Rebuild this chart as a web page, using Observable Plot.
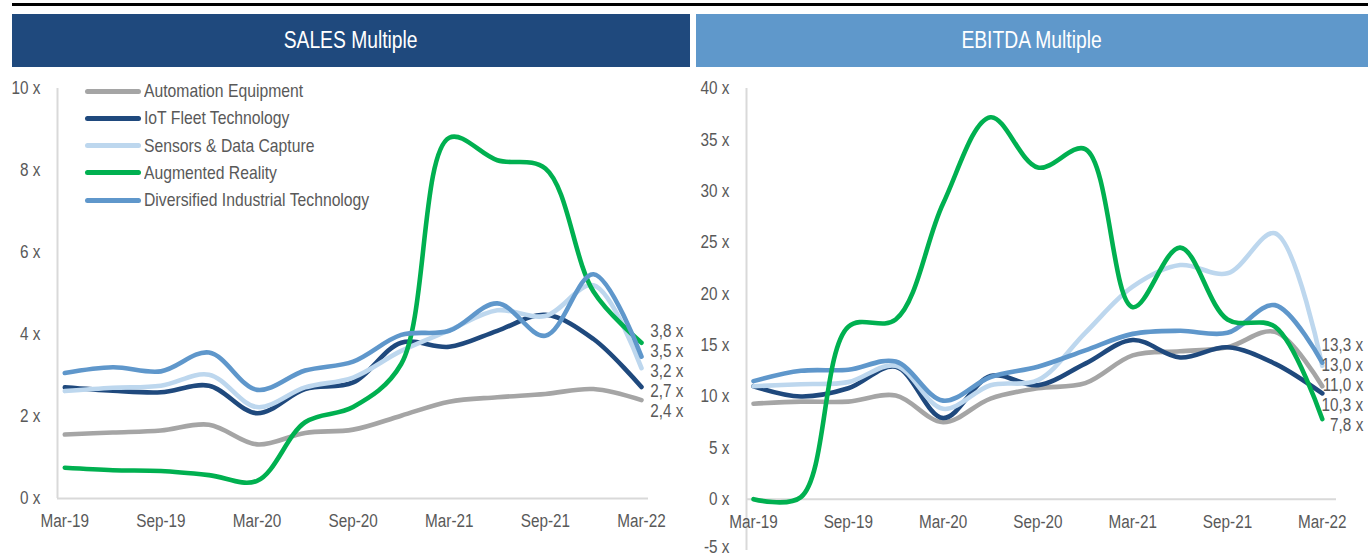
<!DOCTYPE html>
<html>
<head>
<meta charset="utf-8">
<script src="https://cdn.jsdelivr.net/npm/d3@7"></script>
<script src="https://cdn.jsdelivr.net/npm/@observablehq/plot@0.6"></script>
<style>
  html, body { margin: 0; padding: 0; background: #fff; }
  body { width: 1368px; height: 557px; position: relative; overflow: hidden;
         font-family: "Liberation Sans Narrow", "Arial Narrow", "Liberation Sans", Arial, sans-serif; }
  .topline { position: absolute; left: 12px; top: 3px; width: 1356px; height: 3px; background: #000; }
  .bar { position: absolute; top: 14px; height: 53px; color: #fff; font-size: 23.5px;
         display: flex; align-items: center; justify-content: center; }
  .bar span, .legend span { display: inline-block; }
  .panel { position: absolute; top: 70px; }
  .legend { position: absolute; left: 85px; top: 78px; }
  .legend .row { position: absolute; left: 0; height: 20px; display: flex; align-items: center;
                 white-space: nowrap; font-size: 18.5px; color: #595959; }
  .legend .sw { width: 56px; height: 5px; border-radius: 3px; margin-right: 3px; flex: none; }
</style>
</head>
<body>
<div class="topline"></div>
<div class="bar" id="bar1" style="left:12px;width:678px;background:#1F497D;"></div>
<div class="bar" id="bar2" style="left:696px;width:672px;background:#5F98CB;"></div>
<div class="panel" id="sales" style="left:0px;"></div>
<div class="panel" id="ebitda" style="left:690px;"></div>
<div class="legend" id="legend"></div>
<script>
// ---------- data ----------
const quarters = ["Mar-19","Jun-19","Sep-19","Dec-19","Mar-20","Jun-20","Sep-20","Dec-20","Mar-21","Jun-21","Sep-21","Dec-21","Mar-22"];
const tickLabels = ["Mar-19","Sep-19","Mar-20","Sep-20","Mar-21","Sep-21","Mar-22"];
const seriesNames = ["Automation Equipment","IoT Fleet Technology","Sensors & Data Capture","Augmented Reality","Diversified Industrial Technology"];
const seriesColors = ["#A5A5A5","#1F497D","#BDD7EE","#00B050","#5F97CB"];
const panelTitles = ["SALES Multiple","EBITDA Multiple"];

const salesAutomation   = [1.56,1.61,1.66,1.80,1.32,1.60,1.68,2.02,2.36,2.47,2.55,2.67,2.40];
const salesIoT          = [2.71,2.63,2.59,2.75,2.08,2.67,2.83,3.80,3.70,4.09,4.48,3.89,2.72];
const salesSensors      = [2.62,2.70,2.75,3.02,2.23,2.71,2.95,3.60,4.10,4.59,4.45,5.20,3.18];
const salesAR           = [0.75,0.69,0.67,0.57,0.43,1.86,2.23,3.28,8.80,8.25,8.05,5.05,3.80];
const salesDiversified  = [3.06,3.20,3.10,3.56,2.65,3.12,3.34,3.99,4.09,4.76,3.97,5.47,3.46];
const salesTicks = [0,2,4,6,8,10];

const ebitdaAutomation  = [9.3,9.5,9.5,10.1,7.5,9.8,10.8,11.3,14.0,14.4,14.8,16.3,11.0];
const ebitdaIoT         = [11.0,10.0,10.8,12.9,7.9,12.0,11.1,13.2,15.5,13.8,14.8,13.2,10.3];
const ebitdaSensors     = [11.0,11.2,11.4,13.0,8.8,11.1,11.6,16.2,20.7,22.8,22.0,25.9,13.0];
const ebitdaAR          = [0.0,0.2,16.8,17.5,28.8,37.2,32.3,34.1,18.7,24.5,17.5,16.8,7.8];
const ebitdaDiversified = [11.5,12.5,12.6,13.4,9.6,11.9,12.9,14.5,16.1,16.4,16.2,18.9,13.3];
const ebitdaTicks = [-5,0,5,10,15,20,25,30,35,40];

// ---------- helpers ----------
const FONT = '"Liberation Sans Narrow","Arial Narrow","Liberation Sans",Arial,sans-serif';
const fmt = v => v.toFixed(1).replace(".", ",") + " x";

function hasNarrowFont() {
  const c = document.createElement("canvas").getContext("2d");
  c.font = '18px "Liberation Sans Narrow","Arial Narrow",monospace';
  const a = c.measureText("Automation Equipment").width;
  c.font = '18px monospace';
  const b = c.measureText("Automation Equipment").width;
  return Math.abs(a - b) > 0.5;
}
const narrow = hasNarrowFont();
// emulate a narrow face when none is installed
const kText = narrow ? 1 : 0.85;
const kTitle = narrow ? 1 : 0.82;

function squeezeSvgText(svg) {
  if (kText === 1) return;
  svg.querySelectorAll("text").forEach(t => {
    const len = t.getComputedTextLength();
    if (len > 0) {
      t.setAttribute("textLength", (len * kText).toFixed(2));
      t.setAttribute("lengthAdjust", "spacingAndGlyphs");
    }
  });
}

function rowsFor(seriesValues, order) {
  return order.flatMap(s => seriesValues[s].map((v, i) => ({name: seriesNames[s], q: quarters[i], i, v})));
}

// spread end labels apart by a minimum gap, keeping their mean
function endLabels(seriesValues, gapUnits) {
  const last = seriesValues.map(a => a[a.length - 1]);
  const idx = d3.range(last.length).sort((a, b) => last[b] - last[a]);
  const pos = [];
  idx.forEach((s, j) => { pos[j] = j === 0 ? last[s] : Math.min(last[s], pos[j - 1] - gapUnits); });
  const shift = d3.mean(last) - d3.mean(pos);
  return idx.map((s, j) => ({name: seriesNames[s], value: last[s], ly: pos[j] + shift}));
}

function drawPanel(el, seriesValues, opts) {
  const {width, height, marginLeft, marginRight, marginTop, marginBottom, xDomain, yDomain, ticks, order, labelDx} = opts;
  const plotH = height - marginTop - marginBottom;
  const pxPerUnit = plotH / (yDomain[1] - yDomain[0]);
  const labels = endLabels(seriesValues, 20 / pxPerUnit);
  const lastIndex = quarters.length - 1;
  const mainTicks = ticks.filter(t => t >= 0);
  const negTicks = ticks.filter(t => t < 0);
  const axisOpts = {tickFormat: d => d + " x", tickSize: 0, tickPadding: 17, fontSize: 18};
  const chart = Plot.plot({
    width, height, marginLeft, marginRight, marginTop, marginBottom,
    style: {fontFamily: FONT, fontSize: "18px", color: "#595959", background: "transparent", overflow: "visible"},
    x: {domain: xDomain, axis: null},
    y: {domain: yDomain, ticks, tickFormat: d => d + " x", axis: null},
    color: {domain: seriesNames, range: seriesColors},
    marks: [
      Plot.ruleX([xDomain[0]], {stroke: "#D9D9D9", strokeWidth: 2}),
      Plot.ruleY([0], {x1: xDomain[0], x2: xDomain[1], stroke: "#D9D9D9", strokeWidth: 2}),
      Plot.axisY(mainTicks, axisOpts),
      negTicks.length ? Plot.axisY(negTicks, {...axisOpts, dy: -3}) : null,
      Plot.text(tickLabels, {x: (d, i) => i * 2, y: () => 0, text: d => d, dy: 23, fill: "#595959", fontSize: 18}),
      Plot.line(rowsFor(seriesValues, order), {x: "i", y: "v", z: "name", stroke: "name",
        strokeWidth: 4.6, curve: "catmull-rom", strokeLinecap: "round", strokeLinejoin: "round"}),
      Plot.text(labels, {x: () => lastIndex, y: "ly", text: d => fmt(d.value), textAnchor: "end",
        dx: labelDx, fill: "#595959", fontSize: 18})
    ]
  });
  el.appendChild(chart);
  squeezeSvgText(chart);
}

// ---------- titles ----------
[["bar1", panelTitles[0]], ["bar2", panelTitles[1]]].forEach(([id, title]) => {
  const sp = document.createElement("span");
  sp.textContent = title;
  sp.style.transform = `scaleX(${kTitle})`;
  sp.style.transformOrigin = "center";
  document.getElementById(id).appendChild(sp);
});

// ---------- legend ----------
const legend = document.getElementById("legend");
seriesNames.forEach((name, s) => {
  const row = document.createElement("div");
  row.className = "row";
  row.style.top = (s * 27.3 + 3) + "px";
  const sw = document.createElement("div");
  sw.className = "sw";
  sw.style.background = seriesColors[s];
  const tx = document.createElement("span");
  tx.textContent = name;
  tx.style.transform = `scaleX(${kText})`;
  tx.style.transformOrigin = "left center";
  row.appendChild(sw); row.appendChild(tx);
  legend.appendChild(row);
});

// ---------- panels ----------
drawPanel(document.getElementById("sales"),
  [salesAutomation, salesIoT, salesSensors, salesAR, salesDiversified],
  {width: 690, height: 487, marginLeft: 57, marginRight: 42, marginTop: 18, marginBottom: 59,
   xDomain: [-0.152, 12.146], yDomain: [0, 10], ticks: salesTicks, order: [0,1,2,3,4], labelDx: 42});

drawPanel(document.getElementById("ebitda"),
  [ebitdaAutomation, ebitdaIoT, ebitdaSensors, ebitdaAR, ebitdaDiversified],
  {width: 678, height: 487, marginLeft: 56, marginRight: 32, marginTop: 18, marginBottom: 7,
   xDomain: [-0.148, 12.3], yDomain: [-5, 40], ticks: ebitdaTicks, order: [0,1,2,4,3], labelDx: 41});
</script>
</body>
</html>
